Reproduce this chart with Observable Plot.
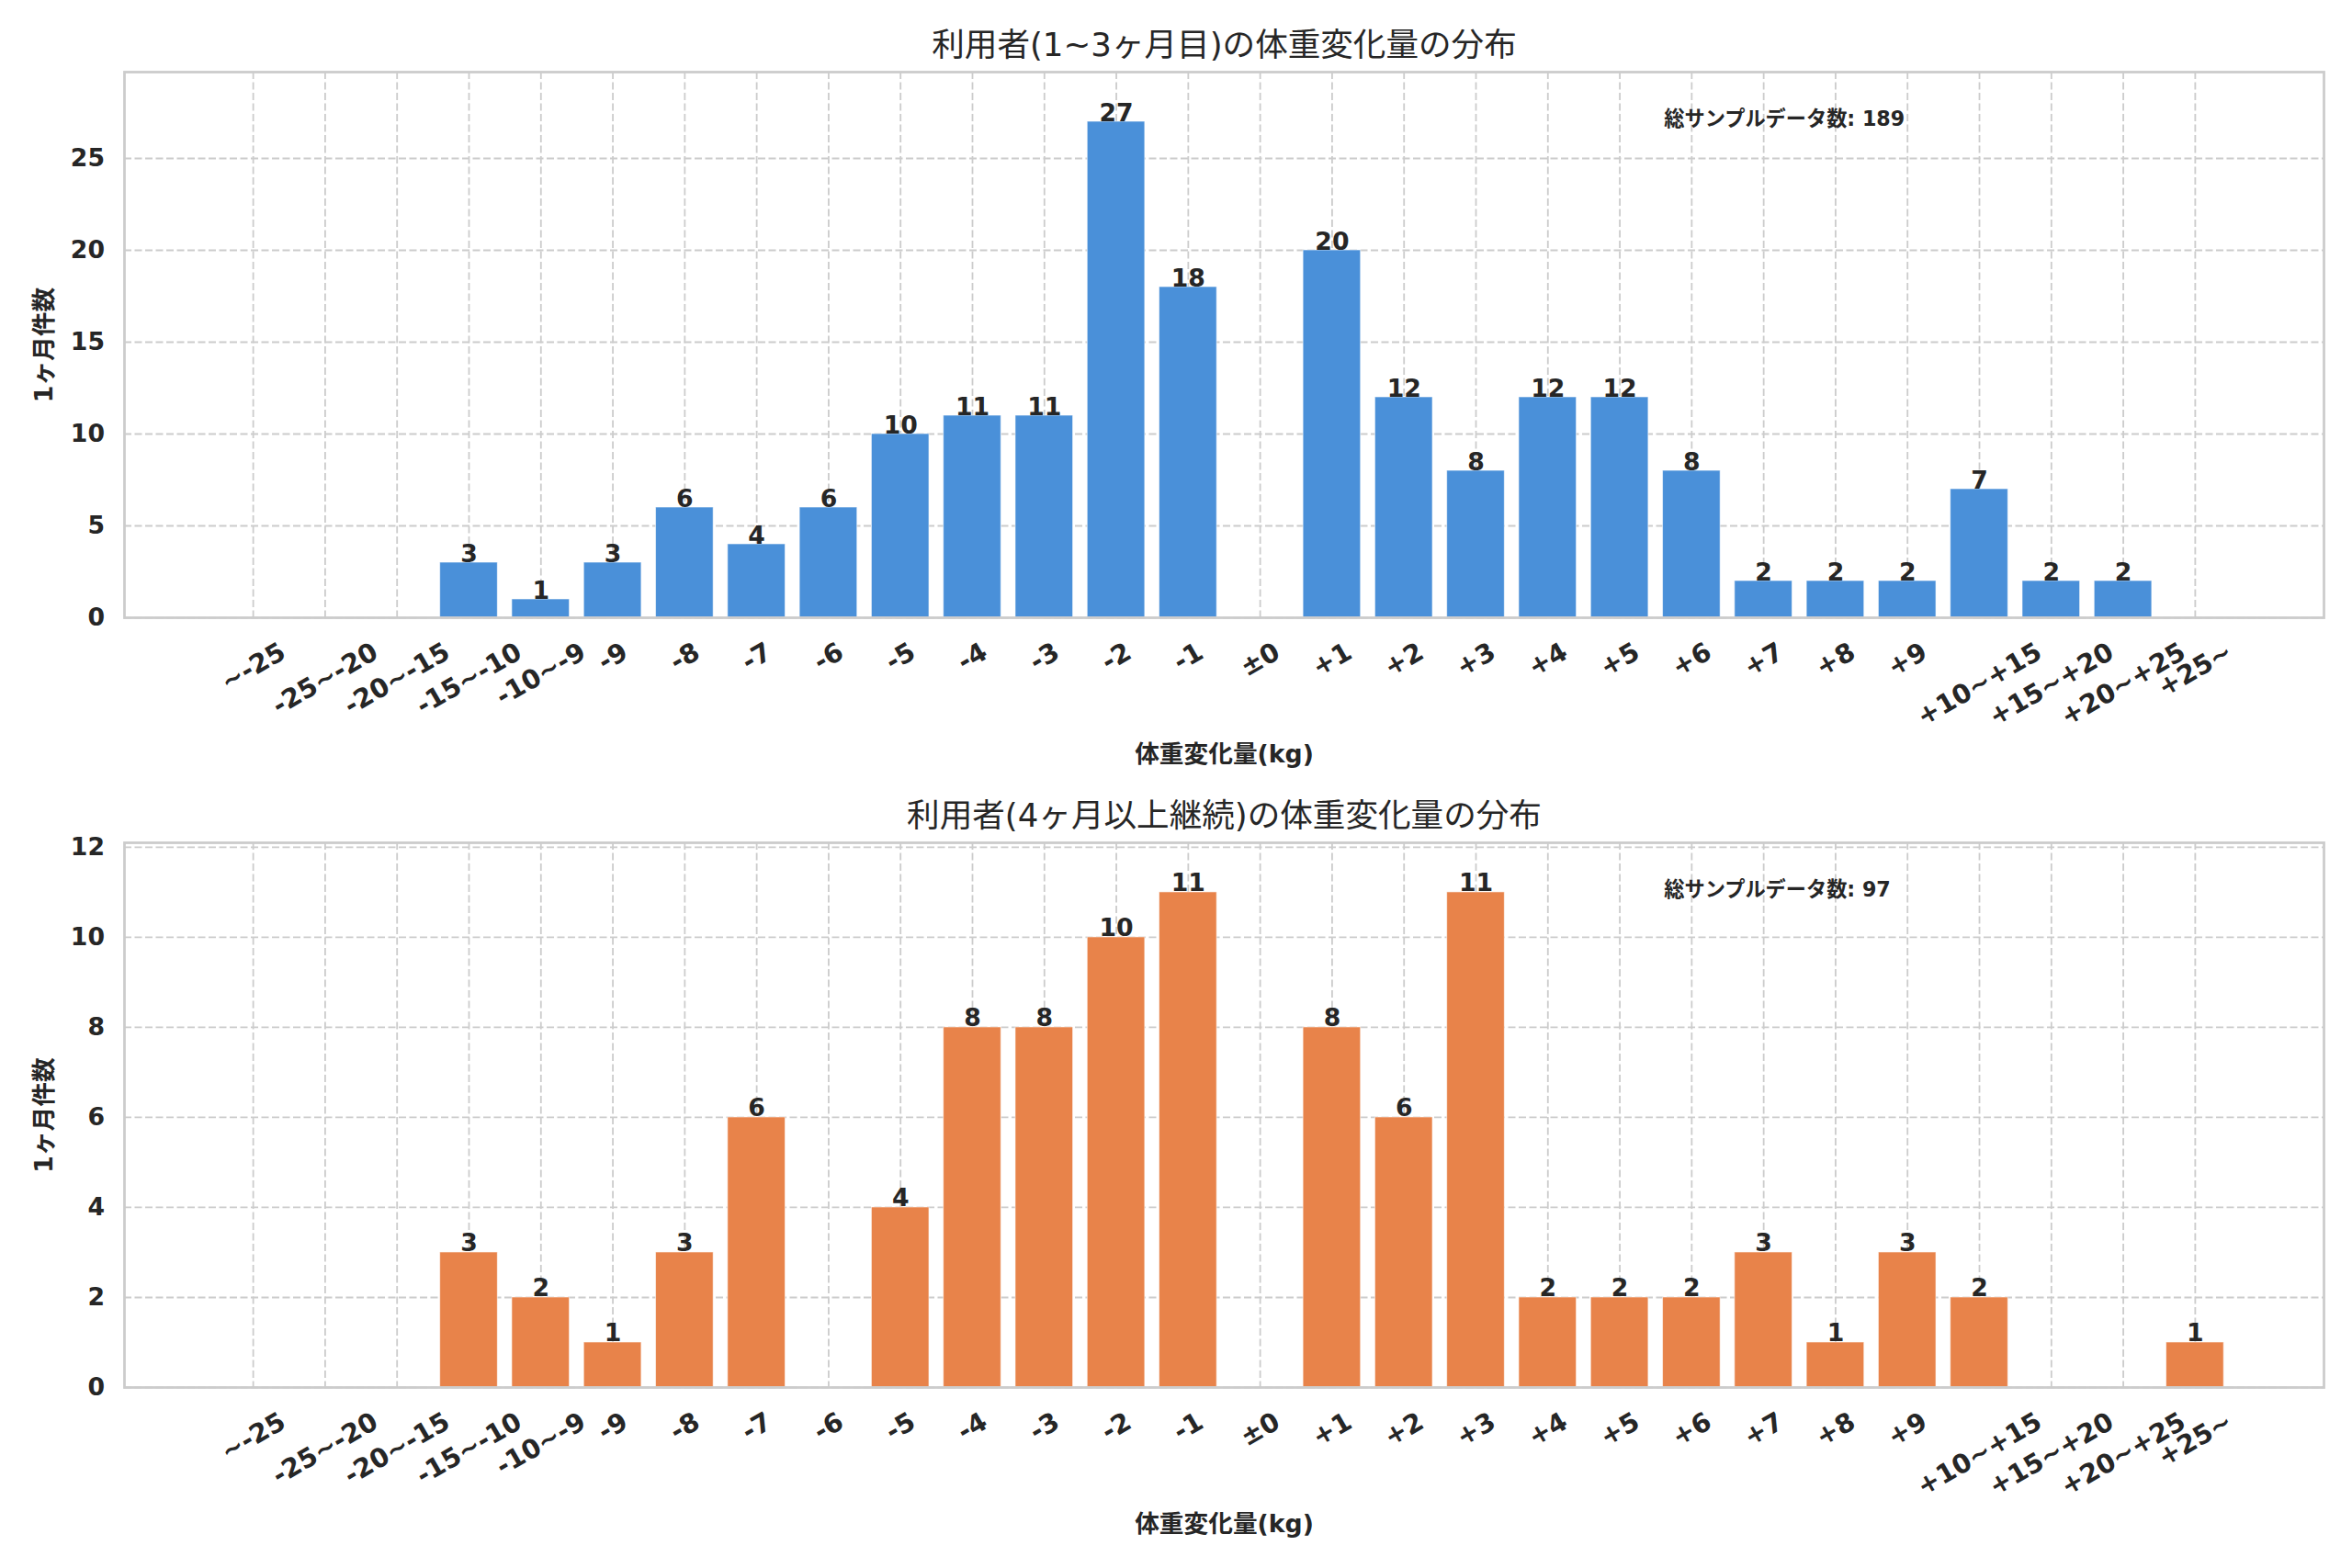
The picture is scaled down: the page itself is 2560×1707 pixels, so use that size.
<!DOCTYPE html>
<html>
<head>
<meta charset="utf-8">
<script src="https://cdn.jsdelivr.net/npm/d3@7"></script>
<script src="https://cdn.jsdelivr.net/npm/@observablehq/plot@0.6"></script>
<style>
  html, body { margin: 0; padding: 0; background: #ffffff; }
  #wrap { width: 2560px; height: 1707px; overflow: hidden; background: #ffffff; }
  #wrap svg { display: block; }
</style>
</head>
<body>
<div id="wrap"></div>
<script>
// ---- data ----
const categories = ["~-25","-25~-20","-20~-15","-15~-10","-10~-9","-9","-8","-7","-6","-5","-4","-3","-2","-1","±0","+1","+2","+3","+4","+5","+6","+7","+8","+9","+10~+15","+15~+20","+20~+25","+25~"];
const shortTermCounts = [0,0,0,3,1,3,6,4,6,10,11,11,27,18,0,20,12,8,12,12,8,2,2,2,7,2,2,0];
const longTermCounts  = [0,0,0,3,2,1,3,6,0,4,8,8,10,11,0,8,6,11,2,2,2,3,1,3,2,0,0,1];
const yTicksTop = [0,5,10,15,20,25];
const yTicksBottom = [0,2,4,6,8,10,12];
const titleTop = "利用者(1~3ヶ月目)の体重変化量の分布";
const titleBottom = "利用者(4ヶ月以上継続)の体重変化量の分布";
const xLabel = "体重変化量(kg)";
const yLabel = "1ヶ月件数";
const annotationLabel = "総サンプルデータ数";
const colorTop = "#4a90d9";
const colorBottom = "#e8834a";

// ---- layout ----
const W = 2560;
const FONT = "'DejaVu Sans', 'Noto Sans CJK JP', sans-serif";
const INK = "#262626";
const GRID = "#cccccc";
const fsTick = 26.7, fsXTick = 28.5, fsTitle = 35.6, fsNote = 22.2;
const mLeft = 135, mRight = W - 2529;
const frameW = W - mLeft - mRight;
const n = categories.length;
const xDomain = [-0.4 - 0.05 * (n - 1 + 0.8), n - 1 + 0.4 + 0.05 * (n - 1 + 0.8)];

// text width measurement for matplotlib-like rotated label placement
const measureCtx = document.createElement("canvas").getContext("2d");
measureCtx.font = `bold ${fsXTick}px 'DejaVu Sans', sans-serif`;
const pad = 20.5, sin30 = 0.5, cos30 = Math.sqrt(3) / 2, lineH = 1.164 * fsXTick;
function labelOffset(s) {
  const w = measureCtx.measureText(s).width;
  return pad + (w * sin30 + lineH * cos30) / 2;
}

function shiftLabels(index, scales, values, dimensions, context, next) {
  const g = next(index, scales, values, dimensions, context);
  g.querySelectorAll("text").forEach(t => {
    const off = labelOffset(t.textContent);
    t.setAttribute("transform", `translate(0,${off}) ` + (t.getAttribute("transform") || ""));
  });
  return g;
}

function chart({values, color, title, yTicks, height, marginTop, marginBottom}) {
  const rows = values.map((v, i) => ({i, value: v, cat: categories[i]}));
  const nonzero = rows.filter(d => d.value > 0);
  const ymax = d3.max(values) * 1.1;
  const total = d3.sum(values);
  return Plot.plot({
    width: W,
    height,
    marginLeft: mLeft,
    marginRight: mRight,
    marginTop,
    marginBottom,
    style: {fontFamily: FONT, color: INK, background: "#ffffff", overflow: "visible"},
    x: {domain: xDomain, axis: null},
    y: {domain: [0, ymax], label: null},
    marks: [
      Plot.ruleX(d3.range(n), {x: d => d, stroke: GRID, strokeWidth: 1.8, strokeDasharray: "8,3.5"}),
      Plot.ruleY(yTicks, {y: d => d, stroke: GRID, strokeWidth: 1.8, strokeDasharray: "8,3.5"}),
      Plot.rectY(nonzero, {x1: d => d.i - 0.4, x2: d => d.i + 0.4, y1: 0, y2: "value", fill: color, stroke: "#ffffff", strokeOpacity: 0.6, strokeWidth: 1}),
      Plot.text(nonzero, {x: "i", y: "value", text: d => String(d.value), lineAnchor: "bottom", dy: -1, fontSize: fsTick, fontWeight: "bold", fill: INK}),
      Plot.axisY({ticks: yTicks, tickSize: 0, tickPadding: 21.5, fontSize: fsTick, fontWeight: "bold", label: null, fill: INK}),
      Plot.text(categories, {x: (d, i) => i, text: d => d, frameAnchor: "bottom", rotate: -30, textAnchor: "middle", lineAnchor: "middle", fontSize: fsXTick, fontWeight: "bold", fill: INK, render: shiftLabels}),
      Plot.frame({stroke: GRID, strokeWidth: 2.8}),
      Plot.text([title], {frameAnchor: "top", dy: -29, lineAnchor: "middle", fontSize: fsTitle, fill: INK}),
      Plot.text([xLabel], {frameAnchor: "bottom", dy: 149, lineAnchor: "middle", fontSize: fsTick, fontWeight: "bold", fill: INK}),
      Plot.text([yLabel], {frameAnchor: "left", dx: -87, rotate: -90, textAnchor: "middle", lineAnchor: "middle", fontSize: fsTick, fontWeight: "bold", fill: INK}),
      Plot.text([`${annotationLabel}: ${total}`], {frameAnchor: "top-left", dx: 0.7 * frameW, dy: 51, textAnchor: "start", lineAnchor: "middle", fontSize: fsNote, fontWeight: "bold", fill: INK})
    ]
  });
}

const wrap = document.getElementById("wrap");
const svgTop = chart({values: shortTermCounts, color: colorTop, title: titleTop, yTicks: yTicksTop, height: 840, marginTop: 78, marginBottom: 168});
const svgBottom = chart({values: longTermCounts, color: colorBottom, title: titleBottom, yTicks: yTicksBottom, height: 867, marginTop: 77, marginBottom: 197});
wrap.append(svgTop, svgBottom);
</script>
</body>
</html>
